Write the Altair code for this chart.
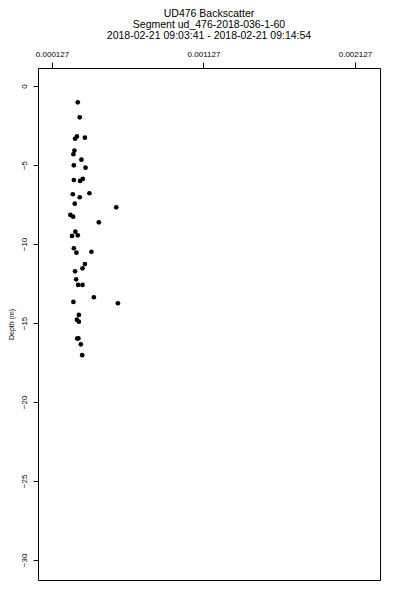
import altair as alt
import pandas as pd

backscatter = [0.000297, 0.000310, 0.000279, 0.000291, 0.000344, 0.000275, 0.000268,
               0.000321, 0.000271, 0.000348, 0.000271, 0.000312, 0.000330, 0.000374,
               0.000264, 0.000310, 0.000277, 0.000551, 0.000248, 0.000266, 0.000436,
               0.000281, 0.000259, 0.000297, 0.000271, 0.000288, 0.000387, 0.000344,
               0.000328, 0.000279, 0.000286, 0.000299, 0.000328, 0.000403, 0.000268,
               0.000562, 0.000304, 0.000291, 0.000304, 0.000301, 0.000293, 0.000317,
               0.000326]
depth = [-1.03, -1.98, -3.34, -3.19, -3.27, -4.09, -4.32, -4.66, -5.02, -5.17, -5.95,
         -6.01, -5.88, -6.79, -6.85, -7.04, -7.45, -7.68, -8.16, -8.27, -8.63, -9.22,
         -9.49, -9.45, -10.27, -10.55, -10.49, -11.27, -11.54, -11.73, -12.24, -12.59,
         -12.59, -13.37, -13.67, -13.75, -14.49, -14.79, -14.92, -15.97, -15.99, -16.35,
         -17.04]
x_ticks = [0.000127, 0.001127, 0.002127]
y_ticks = [0, -5, -10, -15, -20, -25, -30]
title_lines = ["UD476 Backscatter", "Segment ud_476-2018-036-1-60",
               "2018-02-21 09:03:41 - 2018-02-21 09:14:54"]

df = pd.DataFrame({"backscatter": backscatter, "depth": depth})

FONT = "Liberation Sans"

chart = alt.Chart(df).mark_circle(color="black", opacity=1, size=22).encode(
    x=alt.X("backscatter:Q",
            scale=alt.Scale(domain=[0.0000343, 0.0022926], nice=False, zero=False),
            axis=alt.Axis(orient="top", values=x_ticks, format=".6f", title=None,
                          grid=False, domain=False, ticks=True, tickSize=6,
                          tickColor="black", labelColor="black", labelFont=FONT,
                          labelFontSize=8, labelPadding=4, labelFlush=False)),
    y=alt.Y("depth:Q",
            scale=alt.Scale(domain=[-31.27, 1.14], nice=False, zero=False),
            axis=alt.Axis(orient="left", values=y_ticks, format="d", title="Depth (m)",
                          grid=False, domain=False, ticks=True, tickSize=5,
                          tickColor="black", labelColor="black", labelFont=FONT,
                          labelFontSize=8, labelAngle=270, labelAlign="center",
                          labelBaseline="bottom", labelPadding=5,
                          titleFont=FONT, titleFontSize=7, titleFontWeight="normal",
                          titleColor="black", titlePadding=6)),
).properties(
    width=342,
    height=512,
    title=alt.TitleParams(text=title_lines, font=FONT, fontSize=10.5,
                          fontWeight="normal", color="black", lineHeight=11,
                          anchor="middle", offset=9),
    autosize=alt.AutoSizeParams(type="none"),
    padding={"left": 30, "top": 60, "right": 10, "bottom": 2},
).configure_view(stroke="black", strokeWidth=1)

chart.save("out.html", embed_options={"renderer": "svg", "actions": False})
